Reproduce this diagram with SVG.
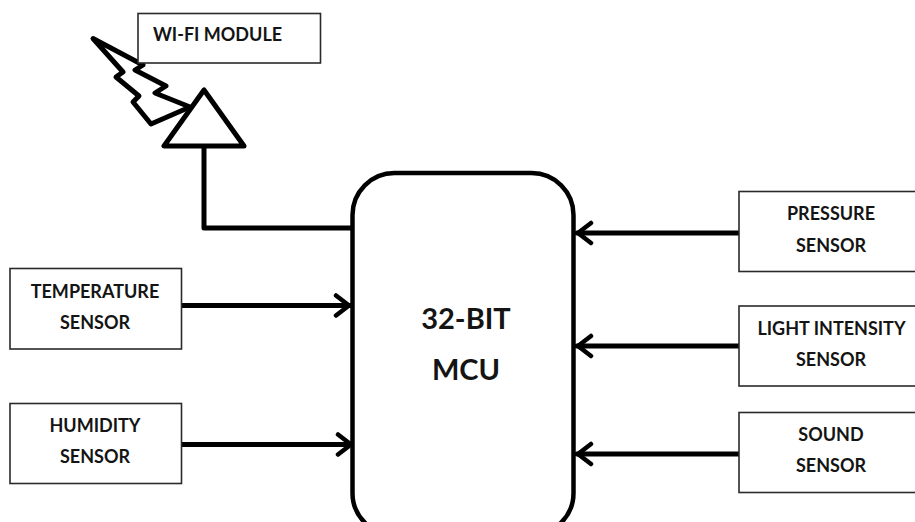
<svg xmlns="http://www.w3.org/2000/svg" width="915" height="522" viewBox="0 0 915 522">
<style>
.box{fill:#fff;stroke:#2a2a2a;stroke-width:1.6}
.t{font-family:"Lato","Open Sans","Liberation Sans",sans-serif;font-weight:700;font-size:18px;fill:#141414;text-anchor:middle}
.big{font-size:29px}
.w{fill:none;stroke:#000;stroke-width:5;stroke-linejoin:round;stroke-linecap:round}
</style>
<defs><marker id="a" markerUnits="userSpaceOnUse" markerWidth="20" markerHeight="26" refX="17" refY="13" orient="auto"><path d="M3 3 L16 13 L3 23" fill="none" stroke="#000" stroke-width="4.500" stroke-linecap="round" stroke-linejoin="round"/></marker></defs>
<rect width="915" height="522" fill="#fff"/>
<g id="connectors">
<path class="w" d="M204 147V228H352" stroke-linecap="butt"/>
<path class="w" d="M182 305.500H350" marker-end="url(#a)"/>
<path class="w" d="M182 444.500H352" marker-end="url(#a)"/>
<path class="w" d="M739 233H577" marker-end="url(#a)"/>
<path class="w" d="M739 346H577" marker-end="url(#a)"/>
<path class="w" d="M739 454H577" marker-end="url(#a)"/>
</g>
<g id="wifi-antenna">
<path class="w" d="M93 38.500L143 65L135 70L166 86L155 93L190 107L151 124L133 102L139 96L116 77L123 72Z"/>
<path class="w" style="fill:#fff" d="M204 90L164 146H244Z"/>
</g>
<g id="wifi-module"><rect class="box" x="138" y="13.500" width="182.500" height="49.500"/><text class="t" x="217.500" y="40.500">WI-FI MODULE</text></g>
<g id="mcu"><rect x="352.500" y="173" width="221" height="362" rx="42" ry="42" fill="#fff" stroke="#000" stroke-width="4.500"/><text class="t big" x="466" y="329">32-BIT</text><text class="t big" x="466" y="380">MCU</text></g>
<g id="temperature"><rect class="box" x="10" y="268.500" width="171.500" height="80.500"/><text class="t" x="95" y="297.500">TEMPERATURE</text><text class="t" x="95" y="328.500">SENSOR</text></g>
<g id="humidity"><rect class="box" x="10" y="403.500" width="171.500" height="80"/><text class="t" x="95" y="431.500">HUMIDITY</text><text class="t" x="95" y="462.500">SENSOR</text></g>
<g id="pressure"><rect class="box" x="739" y="191.500" width="180" height="80"/><text class="t" x="831" y="219.500">PRESSURE</text><text class="t" x="831" y="251.500">SENSOR</text></g>
<g id="light"><rect class="box" x="739" y="306" width="180" height="80"/><text class="t" x="831.500" y="334.500">LIGHT INTENSITY</text><text class="t" x="831" y="365.500">SENSOR</text></g>
<g id="sound"><rect class="box" x="739" y="412.500" width="180" height="80"/><text class="t" x="831" y="441">SOUND</text><text class="t" x="831" y="472">SENSOR</text></g>
</svg>
